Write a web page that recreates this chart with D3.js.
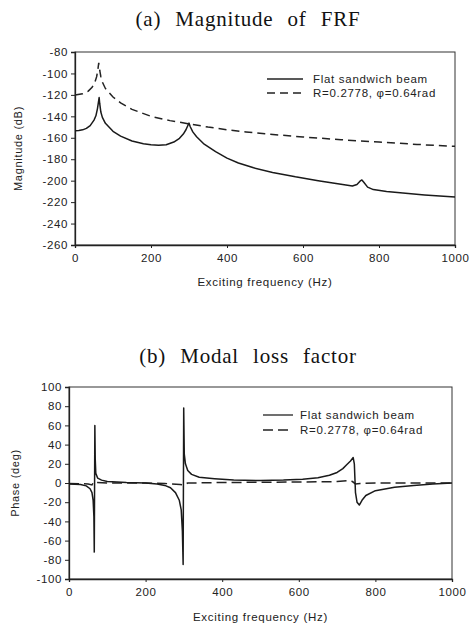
<!DOCTYPE html>
<html>
<head>
<meta charset="utf-8">
<script src="https://cdn.jsdelivr.net/npm/d3@7"></script>
<style>
  body { margin: 0; background: #fff; }
  svg { display: block; }
  .tick text { font-family: "Liberation Sans", Arial, sans-serif; font-size: 11.5px; letter-spacing: 0.6px; fill: #222; }
  .axis path, .axis line { stroke: #222; }
  .lbl { font-family: "Liberation Sans", Arial, sans-serif; font-size: 11.5px; fill: #222; letter-spacing: 0.7px; }
  .ttl { font-family: "Liberation Serif", "Times New Roman", serif; font-size: 21px; fill: #111;
         letter-spacing: 0.8px; word-spacing: 8px; }
</style>
</head>
<body>
<div id="chart"></div>
<script>
// tick labels
const xTicks = [0, 200, 400, 600, 800, 1000];
const magTicks = [-80, -100, -120, -140, -160, -180, -200, -220, -240, -260];
const phaseTicks = [100, 80, 60, 40, 20, 0, -20, -40, -60, -80, -100];
const seriesNames = ["Flat sandwich beam", "R=0.2778, \u03c6=0.64rad"];

// (a) magnitude, [Hz, dB]
const magFlat = [
  [0, -153.5], [10, -153.3], [20, -152.6], [30, -151.2], [40, -148.6], [50, -143.5], [55, -139.5],
  [59, -133], [62, -126], [63.5, -122.5], [65, -128], [68, -136], [72, -141], [80, -146.5],
  [100, -154], [120, -158.5], [150, -163], [180, -165.6], [200, -166.6], [220, -167], [240, -166.5],
  [260, -164], [275, -160.5], [285, -156.5], [292, -152.5], [297, -148.5], [300, -146.3],
  [303, -149.5], [310, -154.5], [320, -159], [340, -166], [370, -173], [400, -179], [430, -183.5],
  [470, -188], [520, -192.3], [580, -196.4], [640, -200], [700, -203.4], [730, -205],
  [742, -203.5], [750, -200.5], [755, -199.3], [760, -201.5], [770, -206], [785, -208.3],
  [820, -210], [870, -211.8], [920, -213.3], [970, -214.6], [1000, -215.3]
];
const magCurved = [
  [0, -120], [20, -119], [35, -116.5], [45, -113], [52, -108.5], [57, -103], [60, -97],
  [62.5, -90], [65, -97], [68, -103], [72, -108], [80, -114], [100, -122], [120, -127.5],
  [150, -133.5], [200, -140], [250, -144], [300, -147], [350, -150], [400, -152.5],
  [450, -154.5], [500, -156.3], [600, -159.3], [700, -161.8], [800, -164], [900, -166.2], [1000, -168]
];

// (b) phase, [Hz, deg]
const phaseFlat = [
  [0, -1], [30, -1.5], [45, -3], [55, -6], [60, -10], [63, -18], [65, -35], [66, -72],
  [67.5, 60], [68.5, 25], [70, 10], [75, 5], [85, 3], [100, 1.5], [150, 0.5], [200, 0],
  [230, -1], [250, -2.5], [265, -5], [278, -10], [288, -18], [293, -28], [296, -50], [298, -85],
  [299.5, 78], [301, 30], [304, 20], [310, 13], [320, 9], [340, 6], [380, 4.5], [430, 3],
  [500, 2.5], [560, 3], [610, 4], [650, 5.5], [680, 8], [700, 11], [715, 15], [725, 19],
  [735, 23], [742, 26.5], [745, 20], [748, -10], [752, -20], [758, -23], [765, -18],
  [775, -13], [800, -8], [850, -4.5], [900, -2.5], [950, -1], [1000, 0]
];
const phaseCurved = [
  [0, -0.5], [50, -1], [60, -2], [64, 1], [70, 0.5], [100, 0], [200, 0], [250, -0.5],
  [290, -1.5], [300, -2], [310, 0], [400, 0.5], [600, 1], [700, 1.5], [730, 2.5], [740, 1.5],
  [748, -1], [760, -0.5], [800, 0], [1000, 0]
];

const W = 475, H = 629;
const svg = d3.select("#chart").append("svg").attr("width", W).attr("height", H);

function panel(opt) {
  const x = d3.scaleLinear().domain([0, 1000]).range([opt.left, opt.right]);
  const y = d3.scaleLinear().domain(opt.yDomain).range([opt.bottom, opt.top]);
  const g = svg.append("g");

  g.append("text").attr("class", "ttl")
    .attr("x", opt.titleX).attr("y", opt.titleY)
    .attr("text-anchor", "middle")
    .text(opt.title);

  // frame
  g.append("rect")
    .attr("x", opt.left).attr("y", opt.top)
    .attr("width", opt.right - opt.left).attr("height", opt.bottom - opt.top)
    .attr("fill", "none").attr("stroke", "#333").attr("stroke-width", 1);

  g.append("g").attr("class", "axis")
    .attr("transform", `translate(0,${opt.bottom})`)
    .call(d3.axisBottom(x).tickValues(xTicks).tickSize(3).tickPadding(6).tickFormat(d => String(d)))
    .call(a => a.select(".domain").attr("stroke-width", 1.3));

  g.append("g").attr("class", "axis")
    .attr("transform", `translate(${opt.left},0)`)
    .call(d3.axisLeft(y).tickValues(opt.yTicks).tickSize(4).tickPadding(3).tickFormat(d => String(d)))
    .call(a => a.select(".domain").attr("stroke-width", 1.3));

  g.append("text").attr("class", "lbl")
    .attr("x", (opt.left + opt.right) / 2).attr("y", opt.xLabelY)
    .attr("text-anchor", "middle").text("Exciting frequency (Hz)");

  g.append("text").attr("class", "lbl")
    .attr("transform", `translate(${opt.yLabelX},${(opt.top + opt.bottom) / 2}) rotate(-90)`)
    .attr("text-anchor", "middle").style("font-size", "11px").text(opt.yLabel);

  const line = d3.line().x(d => x(d[0])).y(d => y(d[1]));

  g.append("path").datum(opt.curved).attr("d", line)
    .attr("fill", "none").attr("stroke", "#222").attr("stroke-width", 1.5)
    .attr("stroke-dasharray", opt.dash);
  g.append("path").datum(opt.flat).attr("d", line)
    .attr("fill", "none").attr("stroke", "#1a1a1a").attr("stroke-width", 1.5)
    .attr("stroke-linejoin", "round");

  // legend
  const lg = g.append("g");
  seriesNames.forEach((name, i) => {
    const yy = opt.legY + i * opt.legGap;
    lg.append("line")
      .attr("x1", opt.legX1).attr("x2", opt.legX2).attr("y1", yy).attr("y2", yy)
      .attr("stroke", "#222").attr("stroke-width", 1.3)
      .attr("stroke-dasharray", i === 0 ? null : opt.dash);
    lg.append("text").attr("class", "lbl")
      .attr("x", opt.legTx).attr("y", yy + 4).text(name);
  });
}

panel({
  title: "(a) Magnitude of FRF", titleX: 248, titleY: 26,
  left: 75, right: 455, top: 52, bottom: 245,
  yDomain: [-260, -80], yTicks: magTicks, yLabel: "Magnitude (dB)", yLabelX: 22,
  xLabelY: 286, flat: magFlat, curved: magCurved, dash: "8,5",
  legX1: 267, legX2: 303, legTx: 313, legY: 79, legGap: 14
});

panel({
  title: "(b) Modal loss factor", titleX: 248, titleY: 363,
  left: 69, right: 452, top: 387, bottom: 579,
  yDomain: [-100, 100], yTicks: phaseTicks, yLabel: "Phase (deg)", yLabelX: 19,
  xLabelY: 621, flat: phaseFlat, curved: phaseCurved, dash: "10,5",
  legX1: 263, legX2: 293, legTx: 300, legY: 415, legGap: 15
});
</script>
</body>
</html>
